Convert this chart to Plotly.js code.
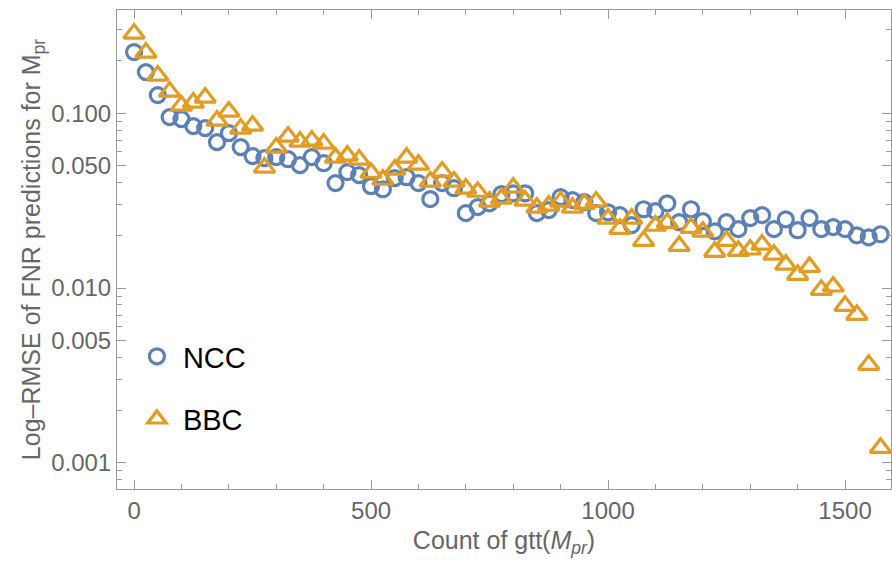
<!DOCTYPE html>
<html>
<head>
<meta charset="utf-8">
<script src="https://cdn.plot.ly/plotly-3.0.1.min.js"></script>
<style>html,body{margin:0;padding:0;background:#fff}#chart{width:892px;height:563px}</style>
</head>
<body>
<div id="chart"></div>
<script>
// x positions: count of gtt(M_pr)
const counts = [0,25,50,75,100,125,150,175,200,225,250,275,300,325,350,375,400,425,450,475,500,525,550,575,600,625,650,675,700,725,750,775,800,825,850,875,900,925,950,975,1000,1025,1050,1075,1100,1125,1150,1175,1200,1225,1250,1275,1300,1325,1350,1375,1400,1425,1450,1475,1500,1525,1550,1575];

const nccValues = [0.2234,0.1716,0.1268,0.0949,0.0924,0.0843,0.0821,0.0682,0.0768,0.0639,
  0.0568,0.0553,0.0560,0.0545,0.0504,0.0560,0.0517,0.0398,0.0460,0.0442,
  0.0382,0.0367,0.0425,0.0430,0.0398,0.0322,0.0398,0.0372,0.0268,0.0290,
  0.0305,0.0344,0.0348,0.0348,0.0268,0.0279,0.0331,0.0318,0.0310,0.0268,
  0.0271,0.0261,0.0229,0.0282,0.0275,0.0305,0.0238,0.0282,0.0241,0.0211,
  0.0238,0.0217,0.0251,0.0261,0.0217,0.0247,0.0214,0.0251,0.0217,0.0223,
  0.0217,0.0200,0.0195,0.0203];

const bbcValues = [0.285,0.2219,0.1639,0.1327,0.1104,0.1148,0.1227,0.0906,0.1020,0.0815,
  0.0848,0.0488,0.0635,0.0734,0.0687,0.0696,0.0669,0.0556,0.0571,0.0542,
  0.0456,0.0416,0.0475,0.0556,0.0507,0.0406,0.0463,0.0406,0.0370,0.0355,
  0.0312,0.0324,0.0375,0.0316,0.0288,0.0296,0.0312,0.0288,0.0303,0.0312,
  0.0249,0.0218,0.0249,0.0186,0.0227,0.0236,0.0174,0.0221,0.0210,0.0161,
  0.0186,0.0163,0.0166,0.0177,0.0155,0.0136,0.0119,0.0132,0.00977,0.0102,
  0.00791,0.00703,0.00364,0.00122];

const seriesNames = ["NCC","BBC"];
const xTickVals = [0,500,1000,1500];
const xTickText = ["0","500","1000","1500"];
const yTickVals = [0.001,0.005,0.01,0.05,0.1];
const yTickText = ["0.001","0.005","0.010","0.050","0.100"];
const yMinorVals = [0.0008,0.0009,0.002,0.003,0.004,0.006,0.007,0.008,0.009,
  0.02,0.03,0.04,0.06,0.07,0.08,0.09,0.2,0.3];

const BLUE = "#5E81B5", ORANGE = "#E19C24";
const FRAME = "#9a9a9a", LABEL = "#666666";
const FONT = "Liberation Sans, Arial, sans-serif";

const traces = [
  {x: counts, y: nccValues, name: seriesNames[0], type: "scatter", mode: "markers",
   legendgroup: "a",
   marker: {symbol: "circle-open", size: 15, color: BLUE, line: {width: 3.2, color: BLUE}}},
  {x: counts, y: bbcValues, name: seriesNames[1], type: "scatter", mode: "markers",
   legendgroup: "b",
   marker: {symbol: "triangle-up-open", size: 18, color: ORANGE, line: {width: 3.2, color: ORANGE}}}
];

const layout = {
  width: 892, height: 563,
  margin: {l: 117, r: 1, t: 10, b: 74},
  paper_bgcolor: "#fff", plot_bgcolor: "#fff",
  font: {family: FONT, color: LABEL},
  showlegend: true,
  legend: {x: 0.018, y: 0.33, xanchor: "left", yanchor: "top", bgcolor: "rgba(0,0,0,0)",
           font: {size: 29, color: "#000", family: FONT}, tracegroupgap: 22, itemwidth: 42},
  xaxis: {
    range: [-36, 1597], tickmode: "array", tickvals: xTickVals, ticktext: xTickText,
    ticks: "inside", ticklen: 9, tickwidth: 1, tickcolor: FRAME,
    showline: true, linecolor: FRAME, linewidth: 1, mirror: "ticks",
    showgrid: false, zeroline: false,
    tickfont: {size: 24, color: LABEL, family: FONT},
    minor: {tick0: 0, dtick: 100, ticks: "inside", ticklen: 5, tickcolor: FRAME, showgrid: false},
    title: {text: "Count of gtt(<i>M</i><sub><i>pr</i></sub>)", font: {size: 25, color: LABEL, family: FONT}, standoff: 8}
  },
  yaxis: {
    type: "log", range: [-3.149, -0.4106],
    tickmode: "array", tickvals: yTickVals, ticktext: yTickText,
    ticks: "inside", ticklen: 9, tickwidth: 1, tickcolor: FRAME,
    showline: true, linecolor: FRAME, linewidth: 1, mirror: "ticks",
    showgrid: false, zeroline: false,
    tickfont: {size: 24, color: LABEL, family: FONT},
    minor: {tickmode: "array", tickvals: yMinorVals, ticks: "inside", ticklen: 5, tickcolor: FRAME, showgrid: false},
    title: {text: "Log\u2013RMSE of FNR predictions for M<sub>pr</sub>", font: {size: 25, color: LABEL, family: FONT}}
  }
};

Plotly.newPlot("chart", traces, layout, {displayModeBar: false, staticPlot: true});
</script>
</body>
</html>
